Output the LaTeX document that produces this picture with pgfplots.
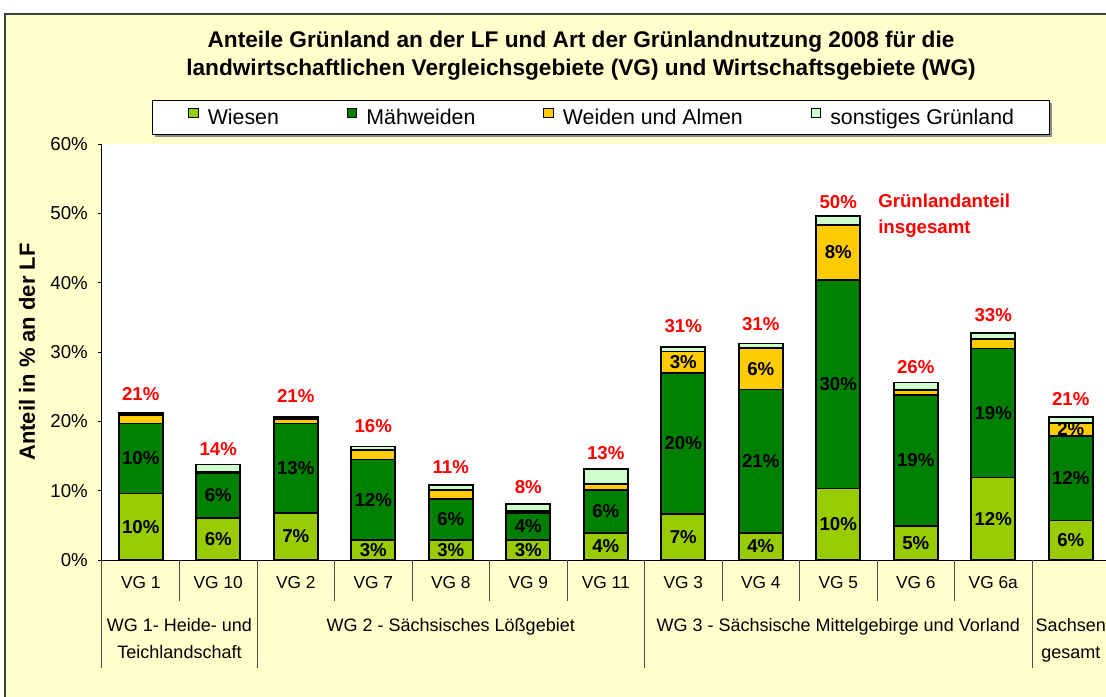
\documentclass[border=0pt]{standalone}
\usepackage{fontspec}
\setmainfont{Liberation Sans}
\usepackage{pgfplots}
\pgfplotsset{compat=1.18}
\usepackage{pgfplotstable}

\definecolor{wiesen}{HTML}{99CC00}
\definecolor{mahw}{HTML}{008000}
\definecolor{weiden}{HTML}{FFCC00}
\definecolor{sonst}{HTML}{CCFFCC}
\definecolor{bgy}{HTML}{FFFFCC}
\definecolor{redlab}{HTML}{FF0000}

\pgfplotstableread{
x W M Wd S
0 9.6 10.1 1.2 0.3
1 6.1 6.4 0.2 1.1
2 6.8 12.9 0.6 0.3
3 2.9 11.6 1.4 0.5
4 2.9 5.9 1.3 0.7
5 2.9 3.9 0.3 1.0
6 3.9 6.2 0.9 2.1
7 6.6 20.4 3.1 0.6
8 3.9 20.7 6.0 0.6
9 10.3 30.1 7.9 1.3
10 4.9 18.9 0.7 1.1
11 11.9 18.6 1.4 0.8
12 5.7 12.2 1.9 0.8
}\datatable

\pgfplotstableread{
x y lab
0 4.8 10
0 14.65 10
1 3.05 6
1 9.3 6
2 3.4 7
2 13.25 13
3 1.45 3
3 8.7 12
4 1.45 3
4 5.85 6
5 1.45 3
5 4.85 4
6 1.95 4
6 7.0 6
7 3.3 7
7 16.8 20
7 28.55 3
8 1.95 4
8 14.25 21
8 27.6 6
9 5.15 10
9 25.35 30
9 44.35 8
10 2.45 5
10 14.35 19
11 5.95 12
11 21.2 19
12 2.85 6
12 11.8 12
12 18.85 2
}\seglabels

\pgfplotstableread{
x y lab
0 24.0 21
1 16.0 14
2 23.6 21
3 19.3 16
4 13.4 11
5 10.5 8
6 15.4 13
7 33.7 31
8 34.0 31
9 51.6 50
10 27.8 26
11 35.3 33
12 23.2 21
}\totlabels

\begin{document}
\begin{tikzpicture}
\useasboundingbox (0,0) rectangle (829.5pt,-522pt);
\begin{scope}[x=0.75pt,y=-0.75pt]
\fill[bgy] (5,14) rectangle (1125,715);
\draw[black!75,line width=1.1pt] (5,14) rectangle (1125,715);
\node[font=\fontsize{17}{21}\selectfont\bfseries, align=center] at (581,56)
  {Anteile Grünland an der LF und Art der Grünlandnutzung 2008 für die\\
   landwirtschaftlichen Vergleichsgebiete (VG) und Wirtschaftsgebiete (WG)};
\fill[black!45] (155,103) rectangle (1052,137);
\draw[fill=white, line width=0.75pt] (152,100) rectangle (1049,134);
\end{scope}

\begin{axis}[
  at={(76.5pt,-420pt)}, anchor=south west,
  scale only axis, width=755.625pt, height=312pt,
  xmin=-0.5, xmax=12.5, ymin=0, ymax=60,
  ybar stacked, bar width=33pt,
  axis x line*=bottom, axis y line*=left,
  axis line style={line width=0.75pt, black},
  axis background/.style={fill=white},
  clip=false,
  xtick={0,...,12},
  xticklabels={VG 1, VG 10, VG 2, VG 7, VG 8, VG 9, VG 11, VG 3, VG 4, VG 5, VG 6, VG 6a, {}},
  xtick style={draw=none},
  ytick={0,10,...,60},
  yticklabel={\pgfmathprintnumber{\tick}\%},
  tick align=outside, major tick length=3pt,
  ytick style={black, line width=0.75pt},
  ticklabel style={font=\fontsize{13}{15}\selectfont},
  /pgf/number format/assume math mode=true,
  xticklabel style={anchor=base, yshift=-18pt},
  yticklabel style={anchor=east, inner sep=0pt, xshift=-7.5pt, font=\fontsize{14}{16}\selectfont},
  ylabel={Anteil in \% an der LF},
  ylabel style={font=\fontsize{16.5}{19}\selectfont\bfseries, at={(axis description cs:-0.0744,0.5)}, anchor=center},
  legend columns=4,
  legend image code/.code={\draw[#1, line width=0.6pt] (0pt,0pt) rectangle (7pt,7pt);},
  legend style={at={(axis description cs:0.0854,1.065)}, anchor=west, draw=none, fill=none,
    inner xsep=0pt, inner ysep=0pt, font=\fontsize{16}{19}\selectfont,
    nodes={inner sep=0pt},
    /tikz/every odd column/.append style={column sep=7pt},
    /tikz/every even column/.append style={column sep=51pt}},
  legend cell align=left,
]
\addplot[fill=wiesen, draw=black, line width=1.2pt] table[x=x,y=W]{\datatable};
\addplot[fill=mahw, draw=black, line width=1.2pt] table[x=x,y=M]{\datatable};
\addplot[fill=weiden, draw=black, line width=1.2pt] table[x=x,y=Wd]{\datatable};
\addplot[fill=sonst, draw=black, line width=1.2pt] table[x=x,y=S]{\datatable};
\legend{Wiesen, Mähweiden, Weiden und Almen, sonstiges Grünland}

\pgfplotsinvokeforeach{0.5,2.5,3.5,4.5,5.5,7.5,8.5,9.5,10.5}{
  \draw[black!70, line width=0.75pt] (axis cs:#1,0) -- ([yshift=-30.75pt]axis cs:#1,0);
}
\pgfplotsinvokeforeach{-0.5,1.5,6.5,11.5,12.5}{
  \draw[black!70, line width=0.75pt] (axis cs:#1,0) -- ([yshift=-81pt]axis cs:#1,0);
}
\node[anchor=base, font=\fontsize{13.5}{16}\selectfont, yshift=-53.25pt] at (axis cs:0.5,0) {WG 1- Heide- und};
\node[anchor=base, font=\fontsize{13.5}{16}\selectfont, yshift=-73.5pt] at (axis cs:0.5,0) {Teichlandschaft};
\node[anchor=base, font=\fontsize{13.5}{16}\selectfont, yshift=-53.25pt] at (axis cs:4,0) {WG 2 - Sächsisches Lößgebiet};
\node[anchor=base, font=\fontsize{13.5}{16}\selectfont, yshift=-53.25pt] at (axis cs:9,0) {WG 3 - Sächsische Mittelgebirge und Vorland};
\node[anchor=base, font=\fontsize{13.5}{16}\selectfont, yshift=-53.25pt] at (axis cs:12,0) {Sachsen};
\node[anchor=base, font=\fontsize{13.5}{16}\selectfont, yshift=-73.5pt] at (axis cs:12,0) {gesamt};
\end{axis}

\begin{axis}[
  at={(76.5pt,-420pt)}, anchor=south west,
  scale only axis, width=755.625pt, height=312pt,
  xmin=-0.5, xmax=12.5, ymin=0, ymax=60,
  hide axis, clip=false,
]
\addplot[draw=none, mark=none, nodes near coords={\pgfplotspointmeta\%}, point meta=explicit symbolic,
  every node near coord/.style={anchor=center, inner sep=0pt, font=\fontsize{14}{16}\selectfont\bfseries, text=black}]
  table[x=x,y=y,meta=lab]{\seglabels};
\addplot[draw=none, mark=none, nodes near coords={\pgfplotspointmeta\%}, point meta=explicit symbolic,
  every node near coord/.style={anchor=center, inner sep=0pt, font=\fontsize{14}{16}\selectfont\bfseries, text=redlab}]
  table[x=x,y=y,meta=lab]{\totlabels};
\end{axis}

\begin{scope}[x=0.75pt,y=-0.75pt]
\node[anchor=base west, inner sep=0pt, text=redlab, font=\fontsize{14}{17}\selectfont\bfseries] at (878,207) {Grünlandanteil};
\node[anchor=base west, inner sep=0pt, text=redlab, font=\fontsize{14}{17}\selectfont\bfseries] at (878,233) {insgesamt};
\end{scope}
\end{tikzpicture}
\end{document}
